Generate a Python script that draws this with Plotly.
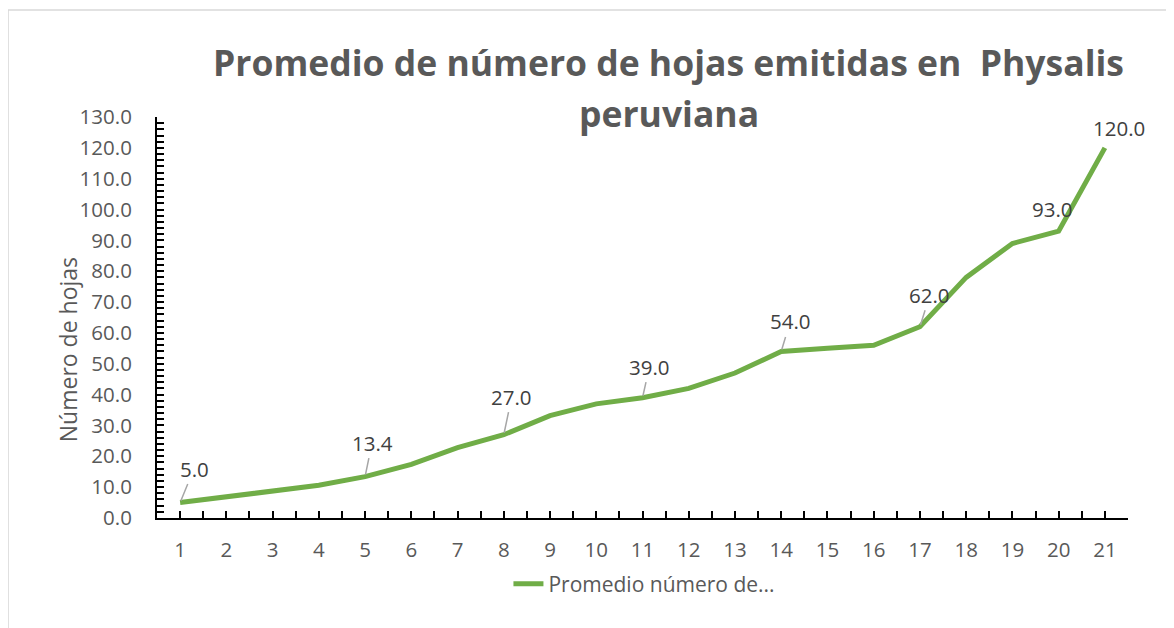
import plotly.graph_objects as go

# weeks and average leaf count
semanas = list(range(1, 22))
hojas = [5.0, 6.8, 8.7, 10.6, 13.4, 17.4, 22.8, 27.0, 33.2, 37.0, 39.0,
         42.0, 47.0, 54.0, 55.0, 56.0, 62.0, 78.0, 89.0, 93.0, 120.0]
serie = "Promedio número de..."

# which points carry a data label, and the label offset (px) from the point
etiquetas = {1: (14, -34), 5: (7, -34), 8: (8, -38), 11: (7, -31),
             14: (9, -30), 17: (10, -32)}
etiquetas_sin_guia = {20: (-6, -22), 21: (14, -20)}

FONT = "Open Sans"
GRAY = "#595959"
GREEN = "#70ad47"
LBL = 20.5

fig = go.Figure(go.Scatter(
    x=semanas, y=hojas, mode="lines", name=serie,
    line=dict(color=GREEN, width=5),
))

for s, (dx, dy) in etiquetas.items():
    v = hojas[s - 1]
    fig.add_annotation(
        x=s, y=v, text=f"{v:.1f}", showarrow=True, arrowhead=0,
        arrowcolor="#a6a6a6", arrowwidth=1.5, standoff=2,
        ax=dx, ay=dy, font=dict(family=FONT, size=LBL, color="#404040"),
    )
for s, (dx, dy) in etiquetas_sin_guia.items():
    v = hojas[s - 1]
    fig.add_annotation(
        x=s, y=v, text=f"{v:.1f}", showarrow=True, arrowwidth=0.1,
        arrowcolor="rgba(0,0,0,0)", ax=dx, ay=dy,
        font=dict(family=FONT, size=LBL, color="#404040"),
    )

# two-line title, placed as annotations for tighter control of line gap
fig.add_annotation(text="<b>Promedio de número de hojas emitidas en  Physalis</b>",
                   xref="paper", yref="paper", x=0.527, y=1.137, showarrow=False,
                   xanchor="center", yanchor="middle",
                   font=dict(family=FONT, size=35.5, color=GRAY))
fig.add_annotation(text="<b>peruviana</b>",
                   xref="paper", yref="paper", x=0.527, y=1.01, showarrow=False,
                   xanchor="center", yanchor="middle",
                   font=dict(family=FONT, size=35.5, color=GRAY))
fig.add_annotation(text="Número de hojas", xref="paper", yref="paper",
                   x=-0.092, y=0.42, showarrow=False, textangle=-90,
                   xanchor="center", yanchor="middle",
                   font=dict(family=FONT, size=23, color=GRAY))

# light outer frame
fig.add_shape(type="rect", xref="paper", yref="paper",
              x0=-0.1534, y0=-0.5, x1=1.2, y1=1.2668,
              line=dict(color="#d9d9d9", width=1.5))

fig.update_xaxes(
    range=[0.5, 21.5], tickmode="linear", tick0=1, dtick=1, automargin=False,
    showgrid=False, zeroline=False, showline=True, linecolor="black", linewidth=2,
    ticks="inside", ticklen=7, tickcolor="black", tickwidth=1.5,
    minor=dict(ticks="inside", ticklen=7, tickcolor="black", tickwidth=1.5, dtick=0.5, tick0=0.5),
    tickfont=dict(family=FONT, size=LBL, color=GRAY), ticklabelstandoff=12,
)
fig.update_yaxes(
    range=[0, 130], tickmode="linear", tick0=0, dtick=10, tickformat=".1f", automargin=False,
    showgrid=False, zeroline=False, showline=True, linecolor="black", linewidth=2,
    ticks="inside", ticklen=7, tickcolor="black", tickwidth=1.5,
    minor=dict(ticks="inside", ticklen=7, tickcolor="black", tickwidth=1.5, dtick=2),
    tickfont=dict(family=FONT, size=LBL, color=GRAY), ticklabelstandoff=19,
)

# page body has an 8px margin, so the figure is a bit smaller and offset
fig.update_layout(
    width=1166, height=620,
    margin=dict(l=149, r=46, t=109, b=110),
    paper_bgcolor="white", plot_bgcolor="white",
    showlegend=True,
    legend=dict(orientation="h", x=0.502, xanchor="center", y=-0.165, yanchor="middle",
                font=dict(family=FONT, size=21, color=GRAY)),
)

fig.write_html("out.html")
